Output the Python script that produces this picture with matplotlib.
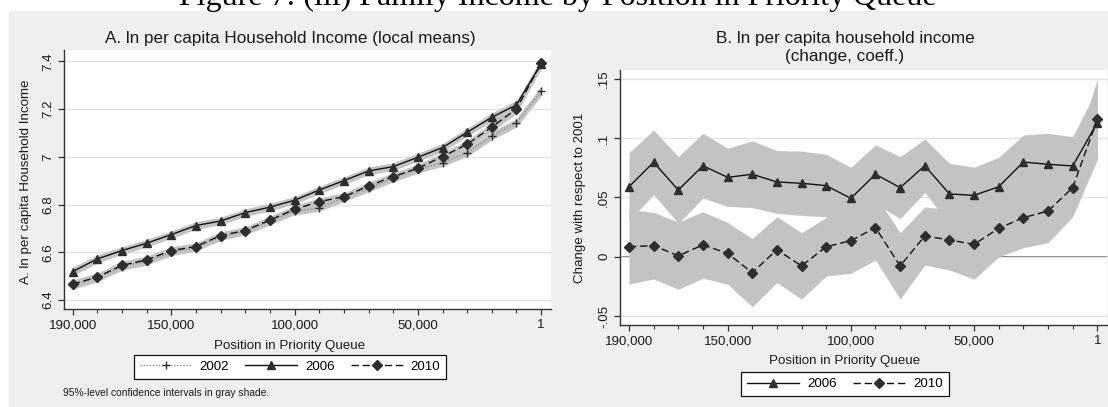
import matplotlib
matplotlib.use("Agg")
import matplotlib.pyplot as plt
from matplotlib.patches import Rectangle

plt.rcParams["font.family"] = ["Liberation Sans", "DejaVu Sans"]

# position in priority queue (x), shared by both panels
positions = [190000, 180000, 170000, 160000, 150000, 140000, 130000, 120000, 110000,
             100000, 90000, 80000, 70000, 60000, 50000, 40000, 30000, 20000, 10000, 1]
tick_pos = [190000, 150000, 100000, 50000, 1]
tick_labels = ["190,000", "150,000", "100,000", "50,000", "1"]

# panel A: ln per capita household income, local means
inc_2002 = [6.462, 6.492, 6.540, 6.562, 6.600, 6.620, 6.664, 6.688, 6.730, 6.772,
            6.786, 6.828, 6.868, 6.910, 6.948, 6.976, 7.018, 7.088, 7.143, 7.276]
inc_2006 = [6.519, 6.572, 6.607, 6.638, 6.674, 6.712, 6.731, 6.766, 6.789, 6.818,
            6.861, 6.900, 6.941, 6.959, 6.998, 7.039, 7.103, 7.166, 7.218, 7.390]
inc_2010 = [6.466, 6.496, 6.545, 6.568, 6.607, 6.624, 6.670, 6.691, 6.735, 6.780,
            6.812, 6.833, 6.878, 6.917, 6.952, 7.001, 7.053, 7.125, 7.201, 7.392]
inc_hw_2002 = [0.017, 0.016, 0.016, 0.016, 0.015, 0.015, 0.015, 0.015, 0.015, 0.015,
               0.015, 0.015, 0.015, 0.015, 0.016, 0.016, 0.016, 0.017, 0.018, 0.021]
inc_hw_2006 = [0.018, 0.017, 0.016, 0.016, 0.016, 0.016, 0.016, 0.016, 0.016, 0.016,
               0.016, 0.016, 0.016, 0.016, 0.017, 0.017, 0.017, 0.018, 0.019, 0.022]
inc_hw_2010 = [0.018, 0.017, 0.017, 0.016, 0.016, 0.016, 0.016, 0.016, 0.016, 0.016,
               0.016, 0.016, 0.016, 0.016, 0.017, 0.017, 0.017, 0.018, 0.019, 0.022]

# panel B: change with respect to 2001 (coefficients) and 95% half-widths
chg_2006 = [0.059, 0.0796, 0.0562, 0.0767, 0.0669, 0.0695, 0.063, 0.0619, 0.0599, 0.0492,
            0.0695, 0.0582, 0.0767, 0.0529, 0.0517, 0.059, 0.0798, 0.0779, 0.0765, 0.113]
chg_hw_2006 = [0.0287, 0.0272, 0.0281, 0.0273, 0.0245, 0.0281, 0.0265, 0.0271, 0.0263, 0.0262,
               0.0247, 0.0261, 0.0225, 0.0258, 0.0237, 0.0248, 0.0228, 0.0261, 0.0247, 0.029]
chg_2010 = [0.0084, 0.0093, 0.0008, 0.0099, 0.0028, -0.0135, 0.0059, -0.0078, 0.0084, 0.0135,
            0.0245, -0.0078, 0.0175, 0.0141, 0.0104, 0.0239, 0.0329, 0.0385, 0.0582, 0.116]
chg_hw_2010 = [0.0314, 0.0281, 0.0283, 0.028, 0.026, 0.0287, 0.0278, 0.028, 0.0247, 0.0275,
               0.0273, 0.028, 0.0245, 0.0253, 0.0294, 0.024, 0.0253, 0.0267, 0.0245, 0.034]

W, H = 1108, 407
BAND = "#c3c3c3"
INK = "#2e2e2e"
DASH = (5.3, 2.7)


def fx(px):
    return px / W


def fy(py):
    return 1 - py / H


def style_axis(ax, yticks, ylabels, xlim, ylim):
    ax.set_xlim(*xlim)
    ax.set_ylim(*ylim)
    ax.set_xticks(tick_pos)
    ax.set_xticklabels(tick_labels)
    ax.set_xticks(positions, minor=True)
    ax.set_yticks(yticks)
    ax.set_yticklabels(ylabels)
    for lab in ax.get_yticklabels():
        lab.set_rotation(90)
        lab.set_va("center")
    ax.tick_params(axis="both", which="major", direction="out", length=4.2, width=0.9,
                   color="#333333", labelsize=9.6, labelcolor="#1a1a1a", pad=3)
    ax.tick_params(axis="x", which="minor", direction="out", length=2.8, width=0.8, color="#333333")
    for side in ("top", "right"):
        ax.spines[side].set_visible(False)
    for side in ("left", "bottom"):
        ax.spines[side].set_color("#333333")
        ax.spines[side].set_linewidth(1.0)
    ax.grid(axis="y", color="#e4e4e4", linewidth=1.0)
    ax.set_axisbelow(True)
    ax.set_facecolor("white")


def band(ax, y, hw):
    lo = [v - h for v, h in zip(y, hw)]
    hi = [v + h for v, h in zip(y, hw)]
    ax.fill_between(positions, lo, hi, color=BAND, linewidth=0, zorder=1)


fig = plt.figure(figsize=(W / 100, H / 100), dpi=100)
fig.patch.set_facecolor("white")
fig.add_artist(Rectangle((fx(9), 0), 1 - fx(9), fy(11), transform=fig.transFigure,
                         facecolor="#efefef", edgecolor="none", zorder=-10))

fig.text(0.503, fy(4.5), "Figure 7: (iii) Family Income by Position in Priority Queue",
         ha="center", va="baseline", fontsize=23, family=["Liberation Serif", "DejaVu Serif"])

# ---- panel A
axA = fig.add_axes([fx(64), fy(309), fx(551) - fx(64), fy(50) - fy(309)])
band(axA, inc_2002, inc_hw_2002)
band(axA, inc_2006, inc_hw_2006)
band(axA, inc_2010, inc_hw_2010)
axA.plot(positions, inc_2002, color="#8f8f8f", linestyle=(0, (1, 1.2)), linewidth=1.0,
         marker="+", markersize=6, markeredgewidth=1.0, markeredgecolor=INK, label="2002", zorder=3)
axA.plot(positions, inc_2006, color="#111111", linestyle="-", linewidth=1.0,
         marker="^", markersize=6.2, markerfacecolor=INK, markeredgecolor=INK, label="2006", zorder=3)
axA.plot(positions, inc_2010, color="#111111", linestyle=(0, DASH), linewidth=1.0,
         marker="D", markersize=5.6, markerfacecolor=INK, markeredgecolor=INK, label="2010", zorder=3)
style_axis(axA, [6.4, 6.6, 6.8, 7.0, 7.2, 7.4], ["6.4", "6.6", "6.8", "7", "7.2", "7.4"],
           (193500, -4000), (6.362, 7.448))
axA.set_xlabel("Position in Priority Queue", fontsize=9.6, color="#1a1a1a")
axA.xaxis.set_label_coords((289.7 - 64) / 487, (309 - 340) / 259)
axA.set_ylabel("A. ln per capita Household Income", fontsize=9.6, color="#1a1a1a")
axA.yaxis.set_label_coords((32 - 64) / 487, 0.49)
fig.text(fx(290), fy(39), "A. ln per capita Household Income (local means)",
         ha="center", va="center", fontsize=12.3, color="#1a1a1a")

legA = axA.legend(loc="center", bbox_to_anchor=(fx(290), fy(367)), bbox_transform=fig.transFigure,
                  ncol=3, fontsize=9.6, frameon=True, fancybox=False, framealpha=1,
                  edgecolor="#111111", handlelength=3.9, handletextpad=0.6, columnspacing=1.2,
                  borderpad=0.45)
legA.get_frame().set_linewidth(0.9)

fig.text(fx(63), fy(393), "95%-level confidence intervals in gray shade.",
         ha="left", va="center", fontsize=7.4, color="#1a1a1a")

# ---- panel B
axB = fig.add_axes([fx(620), fy(325), fx(1106.7) - fx(620), fy(70) - fy(325)])
axB.axhline(0, color="#555555", linewidth=1.1, zorder=0.5)
band(axB, chg_2006, chg_hw_2006)
band(axB, chg_2010, chg_hw_2010)
axB.plot(positions, chg_2006, color="#111111", linestyle="-", linewidth=1.0,
         marker="^", markersize=6.2, markerfacecolor=INK, markeredgecolor=INK, label="2006", zorder=3)
axB.plot(positions, chg_2010, color="#111111", linestyle=(0, DASH), linewidth=1.0,
         marker="D", markersize=5.6, markerfacecolor=INK, markeredgecolor=INK, label="2010", zorder=3)
style_axis(axB, [-0.05, 0, 0.05, 0.1, 0.15], ["-.05", "0", ".05", ".1", ".15"],
           (193650, -3800), (-0.0576, 0.1574))
axB.set_xlabel("Position in Priority Queue", fontsize=9.6, color="#1a1a1a")
axB.xaxis.set_label_coords((845 - 620) / 486.7, (325 - 355) / 255)
axB.set_ylabel("Change with respect to 2001", fontsize=9.6, color="#1a1a1a")
axB.yaxis.set_label_coords((586 - 620) / 486.7, 0.5)
fig.text(fx(845), fy(38), "B. ln per capita household income",
         ha="center", va="center", fontsize=12.3, color="#1a1a1a")
fig.text(fx(845), fy(57), "(change, coeff.)",
         ha="center", va="center", fontsize=12.3, color="#1a1a1a")

legB = axB.legend(loc="center", bbox_to_anchor=(fx(845), fy(384)), bbox_transform=fig.transFigure,
                  ncol=2, fontsize=9.6, frameon=True, fancybox=False, framealpha=1,
                  edgecolor="#111111", handlelength=3.9, handletextpad=0.6, columnspacing=1.2,
                  borderpad=0.45)
legB.get_frame().set_linewidth(0.9)

fig.savefig("out.png", dpi=100)
